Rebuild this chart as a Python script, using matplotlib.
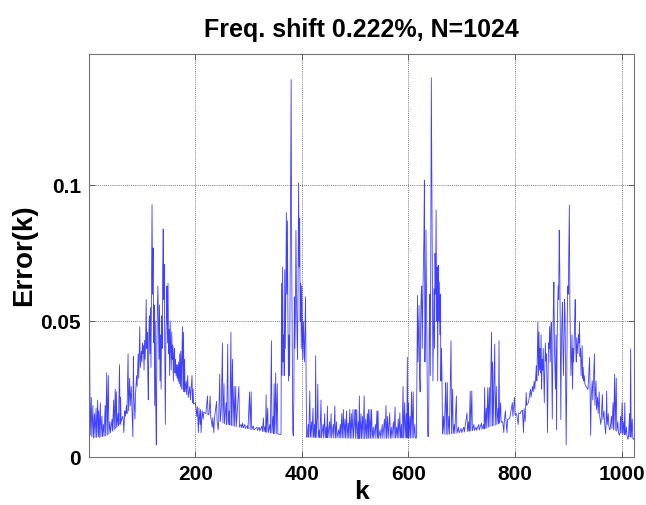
import matplotlib
matplotlib.use('Agg')
import matplotlib.pyplot as plt

plt.rcParams['font.family'] = ['Liberation Sans', 'DejaVu Sans']

# (k, error) pairs, split by region
left_edge = [(1, .0075), (2, .040), (3, .008), (5, .022), (6, .0075), (8, .019), (9, .007), (11, .016),
             (12, .0072), (14, .018), (15, .0072), (17, .021), (18, .0075), (19, .017), (20, .0072),
             (22, .020), (23, .0074), (25, .015), (26, .0075), (28, .012), (29, .0077), (31, .019),
             (32, .0078), (34, .031), (35, .008), (37, .030), (38, .0085), (40, .013), (41, .009),
             (44, .014), (45, .0095), (47, .021), (48, .010), (50, .025), (51, .0105), (52, .024),
             (53, .011), (55, .016), (56, .0115), (58, .034), (59, .012), (60, .022), (61, .013),
             (64, .015), (65, .014), (66, .009), (68, .017), (69, .015), (71, .019), (72, .016),
             (74, .038), (75, .017), (77, .029), (78, .0188), (80, .026), (81, .020), (83, .0075),
             (84, .037), (85, .022), (87, .014), (88, .023), (90, .030), (91, .026), (93, .038),
             (94, .029), (96, .048), (97, .033), (99, .039), (100, .035)]

lobe1 = [(101, .042), (102, .038), (103, .041), (104, .032), (105, .043), (106, .036), (107, .044),
         (108, .058), (109, .040), (110, .046), (111, .030), (112, .021), (113, .045), (114, .052),
         (115, .038), (116, .055), (117, .033), (118, .062), (119, .093), (120, .060), (121, .077),
         (122, .042), (123, .056), (124, .019), (125, .050), (126, .018), (127, .0045), (128, .040),
         (129, .055), (130, .063), (131, .048), (132, .036), (133, .056), (134, .028), (135, .045),
         (136, .025), (137, .052), (138, .040), (139, .070), (140, .084), (141, .058), (142, .071),
         (143, .035), (144, .012), (145, .045), (146, .052), (147, .063), (148, .042), (149, .064),
         (150, .038), (151, .047), (152, .030), (153, .050), (154, .040), (155, .032), (156, .046),
         (157, .036), (158, .041), (159, .028), (160, .038), (161, .040), (162, .031), (163, .036),
         (164, .030), (165, .034), (166, .029), (167, .034), (168, .028), (169, .035), (170, .027)]

tail1 = [(171, .038), (172, .026), (173, .039), (174, .025), (176, .048), (177, .025), (178, .046),
         (179, .024), (180, .036), (181, .024), (183, .028), (184, .023), (186, .030), (187, .022),
         (190, .026), (191, .021), (194, .030), (195, .020), (196, .025), (197, .0195), (200, .020),
         (201, .019), (203, .015), (204, .0185), (206, .009), (207, .018), (209, .012), (210, .0175),
         (211, .009), (213, .017), (215, .014), (216, .0165), (220, .016), (223, .0225), (224, .0155),
         (226, .016), (228, .0225), (229, .015), (232, .011), (233, .0145), (235, .009), (236, .014),
         (240, .0205), (241, .0135), (243, .010), (244, .013), (246, .0305), (247, .013), (249, .018),
         (251, .042), (252, .0125), (254, .027), (255, .0122), (258, .020), (259, .012), (261, .0416),
         (262, .012), (264, .017), (265, .0118), (267, .046), (268, .0116), (270, .036), (271, .0115),
         (273, .026), (274, .0113), (276, .026), (277, .0112), (282, .026), (283, .011), (286, .012),
         (287, .0108), (289, .0125), (290, .0107), (293, .012), (294, .0106), (298, .0115),
         (299, .0104), (302, .024), (303, .0102), (305, .024), (306, .0101), (309, .0115), (310, .010),
         (316, .011), (317, .0098), (320, .011), (321, .0096), (325, .0113), (326, .0094),
         (328, .0144), (329, .0093), (331, .0112), (332, .0092), (333, .023), (334, .0091),
         (336, .018), (337, .009), (340, .012), (341, .0089), (343, .0428), (344, .0088), (346, .015),
         (347, .0087), (348, .027), (349, .0087), (351, .031), (352, .0086), (354, .027),
         (355, .0085), (358, .0084), (359, .0083), (361, .0083)]

peak2 = [(362, .064), (363, .030), (364, .070), (365, .035), (366, .045), (367, .030), (368, .069),
         (369, .040), (370, .058), (371, .090), (372, .060), (373, .087), (374, .050), (375, .028),
         (376, .045), (377, .030), (378, .061), (379, .102), (380, .139), (381, .075), (382, .040),
         (383, .010), (384, .0078), (385, .022), (386, .059), (387, .040), (388, .052), (389, .0835),
         (390, .060), (391, .045), (392, .036), (393, .065), (394, .101), (395, .070), (396, .088),
         (397, .050), (398, .064), (399, .040), (400, .063), (401, .045), (402, .036), (403, .050),
         (404, .042), (405, .035), (406, .048), (407, .059), (408, .030), (409, .0073)]

middle = [(410, .0073), (412, .012), (413, .0073), (415, .0243), (416, .0073), (418, .013),
          (419, .0072), (421, .018), (422, .0072), (424, .012), (425, .0072), (426, .0373),
          (427, .0072), (429, .015), (430, .0268), (431, .0072), (433, .010), (434, .0071),
          (436, .021), (437, .0071), (440, .012), (441, .0071), (443, .016), (444, .0071),
          (446, .011), (447, .0071), (448, .0188), (449, .0071), (452, .013), (453, .007),
          (455, .016), (456, .007), (459, .012), (460, .007), (462, .0188), (463, .007), (465, .013),
          (466, .007), (469, .010), (470, .007), (472, .012), (473, .007), (475, .016), (476, .007),
          (478, .0175), (479, .007), (481, .014), (482, .007), (484, .017), (485, .0069),
          (487, .0125), (488, .0069), (490, .0175), (491, .0069), (493, .016), (494, .0069),
          (496, .0175), (497, .0069), (499, .013), (500, .0175), (501, .0068), (503, .0175),
          (504, .0068), (506, .013), (507, .0068), (508, .0225), (509, .0068), (511, .016),
          (512, .0068), (514, .015), (515, .0068), (517, .0225), (518, .0068), (520, .014),
          (521, .0068), (523, .016), (524, .0069), (525, .0175), (526, .0069), (528, .0175),
          (529, .0069), (531, .0175), (532, .0069), (534, .011), (535, .0069), (538, .012),
          (539, .0069), (541, .017), (542, .0069), (543, .017), (544, .0069), (547, .010),
          (548, .0069), (551, .012), (552, .0069), (555, .014), (556, .0069), (558, .019),
          (559, .0069), (561, .015), (562, .0069), (565, .0163), (566, .0069), (568, .011),
          (569, .0069), (572, .013), (573, .007), (575, .0185), (576, .007), (578, .011), (579, .007),
          (581, .014), (582, .007), (584, .0163), (585, .007), (587, .012), (588, .007), (590, .026),
          (591, .007), (593, .020), (594, .007), (596, .016), (597, .007), (598, .0367), (599, .007),
          (600, .020), (601, .007), (603, .015), (604, .007), (606, .024), (607, .007), (609, .024),
          (610, .007), (612, .012), (613, .007), (615, .007)]

peak3 = [(616, .030), (617, .0595), (618, .035), (619, .045), (620, .0558), (621, .030), (622, .024),
         (623, .048), (624, .060), (625, .063), (626, .040), (627, .058), (628, .070), (629, .080),
         (630, .102), (631, .035), (632, .050), (633, .0836), (634, .060), (635, .040), (636, .010),
         (637, .0075), (638, .012), (639, .045), (640, .060), (641, .030), (642, .075), (643, .1397),
         (644, .102), (645, .060), (646, .028), (647, .045), (648, .062), (649, .040), (650, .075),
         (651, .060), (652, .091), (653, .050), (654, .070), (655, .028), (656, .0706), (657, .050),
         (658, .0644), (659, .045), (660, .060), (661, .028), (662, .040), (663, .030), (664, .0085),
         (666, .015), (667, .0084), (669, .020), (670, .0274), (671, .0083)]

tail3 = [(673, .0274), (674, .0083), (676, .015), (677, .0084), (680, .0428), (681, .0085),
         (683, .025), (684, .0086), (686, .012), (687, .0087), (690, .0225), (691, .0088),
         (694, .011), (695, .0089), (699, .0105), (700, .009), (704, .011), (705, .0092),
         (710, .0163), (711, .0094), (713, .013), (714, .0095), (716, .0243), (717, .0096),
         (719, .0243), (720, .0097), (723, .012), (724, .0098), (727, .011), (728, .0099),
         (732, .012), (733, .010), (737, .0125), (738, .0102), (741, .012), (742, .0104),
         (743, .0256), (744, .0105), (746, .018), (747, .0107), (749, .0256), (750, .011),
         (752, .0256), (753, .0112), (756, .046), (757, .0114), (758, .035), (759, .0115),
         (762, .0416), (763, .0117), (765, .026), (766, .012), (768, .018), (769, .0122),
         (770, .0428), (771, .0125), (773, .020), (774, .0128), (776, .013), (777, .013),
         (779, .009), (780, .0133), (782, .017), (783, .0136), (785, .009), (786, .0138),
         (789, .014), (790, .0142), (795, .020), (796, .015), (799, .022), (800, .0155),
         (802, .016), (803, .0158), (806, .012), (807, .0162), (810, .016), (811, .0168),
         (813, .017), (814, .0172), (816, .009), (817, .0178), (819, .013), (820, .0185),
         (821, .0237), (822, .019), (825, .020), (826, .021), (829, .025), (830, .022),
         (833, .026), (834, .024), (836, .028), (837, .025), (839, .030), (840, .0336)]

lobe4 = [(841, .028), (842, .040), (843, .0496), (844, .030), (845, .046), (846, .032), (847, .040),
         (848, .031), (849, .045), (850, .025), (851, .036), (852, .032), (853, .040), (854, .030),
         (855, .020), (856, .033), (857, .042), (858, .0354), (859, .038), (860, .028), (861, .009),
         (862, .030), (863, .042), (864, .040), (865, .048), (866, .035), (867, .045), (868, .0496),
         (869, .030), (870, .014), (871, .040), (872, .055), (873, .0644), (874, .040), (875, .032),
         (876, .025), (877, .045), (878, .010), (879, .042), (880, .055), (881, .063), (882, .058),
         (883, .0835), (884, .070), (885, .045), (886, .0138), (887, .040), (888, .050), (889, .057),
         (890, .040), (891, .030), (892, .045), (893, .058), (894, .052), (895, .030), (896, .0045),
         (897, .025), (898, .050), (899, .063), (900, .060), (901, .077), (902, .0928), (903, .055),
         (904, .042), (905, .030), (906, .038), (907, .045), (908, .025), (909, .040), (910, .035),
         (911, .042), (912, .050), (913, .058), (914, .040), (915, .035), (916, .044), (917, .041),
         (918, .038), (919, .045), (920, .042), (921, .0496), (922, .037), (923, .040), (924, .030),
         (925, .035), (926, .041), (927, .029), (928, .033), (929, .028), (930, .030)]

right_edge = [(931, .027), (933, .026), (934, .026), (936, .025), (937, .025), (940, .0367),
              (941, .023), (942, .008), (943, .022), (945, .028), (946, .021), (949, .038),
              (950, .019), (952, .028), (953, .0175), (955, .022), (956, .016), (958, .024),
              (959, .015), (961, .012), (962, .0145), (964, .023), (965, .0138), (967, .017),
              (968, .013), (970, .0085), (971, .0122), (972, .0243), (973, .012), (975, .016),
              (976, .0115), (978, .010), (979, .011), (981, .015), (982, .0105), (984, .020),
              (985, .010), (987, .0305), (988, .0098), (990, .029), (991, .0095), (993, .013),
              (994, .0092), (996, .008), (997, .009), (998, .015), (999, .0088), (1001, .020),
              (1002, .0085), (1004, .013), (1005, .0083), (1006, .020), (1007, .0082), (1009, .011),
              (1010, .008), (1012, .0065), (1013, .0078), (1015, .016), (1016, .0075), (1017, .0398),
              (1018, .0072), (1020, .014), (1021, .007), (1022, .0065), (1023, .0068), (1024, .0068)]

x_ticks = [200, 400, 600, 800, 1000]
y_ticks = [0, 0.05, 0.1]
y_tick_labels = ['0', '0.05', '0.1']

pts = left_edge + lobe1 + tail1 + peak2 + middle + peak3 + tail3 + lobe4 + right_edge
k = [p[0] for p in pts]
err = [p[1] for p in pts]

fig = plt.figure(figsize=(6.46, 5.05), dpi=100)
ax = fig.add_axes([0.138, 0.095, 0.844, 0.799])
ax.plot(k, err, color='#0000ff', lw=0.6, alpha=0.75)

ax.set_xlim(1, 1024)
ax.set_ylim(0, 0.1486)
ax.set_xticks(x_ticks)
ax.set_xticklabels([str(t) for t in x_ticks], fontsize=15, fontweight='bold')
ax.set_yticks(y_ticks)
ax.set_yticklabels(y_tick_labels, fontsize=15, fontweight='bold')
ax.tick_params(direction='in', top=True, right=True, length=4, width=0.6, pad=6, color='0.3')
for s in ax.spines.values():
    s.set_color('0.45')
    s.set_linewidth(0.8)
ax.grid(True, linestyle=(0, (1, 1.5)), color='0.3', lw=0.6)

ax.set_xlabel('k', fontsize=19, fontweight='bold', labelpad=-3)
ax.set_ylabel('Error(k)', fontsize=20, fontweight='bold', labelpad=2)
ax.set_title('Freq. shift 0.222%, N=1024', fontsize=18, fontweight='bold', pad=12)

fig.savefig('out.png', dpi=100)
